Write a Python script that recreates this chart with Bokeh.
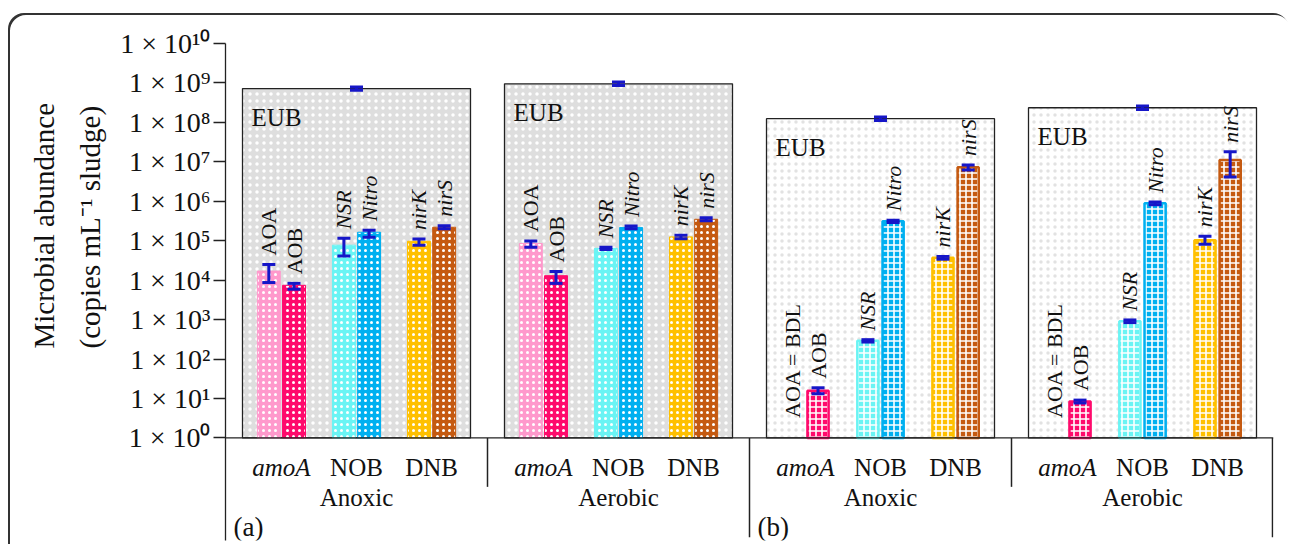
import math
from bokeh.plotting import figure
from bokeh.models import (ColumnDataSource, FactorRange, Range1d, FixedTicker,
                          CustomJSTickFormatter, Whisker, TeeHead, Span, Title)
from bokeh.core.properties import value
from bokeh.embed import file_html
from bokeh.resources import INLINE

# ---------------- data ----------------
panels = ["(a)", "(a)", "(b)", "(b)"]
conditions = ["Anoxic", "Aerobic", "Anoxic", "Aerobic"]
group_names = ["amoA", "NOB", "DNB"]
groups = ["amoA", "amoA", "NOB", "NOB", "DNB", "DNB"]
genes = ["AOA", "AOB", "NSR", "Nitro", "nirK", "nirS"]

# copies mL-1 sludge (None = below detection limit)
abund = [
    [1.7e4, 7.4e3, 7.7e4, 1.64e5, 9.7e4, 2.2e5],     # (a) Anoxic
    [8.5e4, 1.3e4, 6.4e4, 2.17e5, 1.25e5, 3.5e5],    # (a) Aerobic
    [None, 15.7, 2.9e2, 3.1e5, 3.7e4, 7.3e6],        # (b) Anoxic
    [None, 8.4, 9.1e2, 8.9e5, 1.03e5, 1.12e7],       # (b) Aerobic
]
abund_lo = [
    [8.7e3, 5.9e3, 4.1e4, 1.23e5, 7.7e4, 2.0e5],
    [6.8e4, 8.3e3, 6.0e4, 2.0e5, 1.12e5, 3.2e5],
    [None, 13.2, 2.7e2, 2.9e5, 3.4e4, 6.2e6],
    [None, 7.7, 8.4e2, 8.2e5, 8.1e4, 4.1e6],
]
abund_hi = [
    [2.5e4, 8.3e3, 1.15e5, 1.85e5, 1.1e5, 2.4e5],
    [9.8e4, 1.66e4, 6.8e4, 2.35e5, 1.38e5, 3.8e5],
    [None, 18.7, 3.1e2, 3.3e5, 4.0e4, 8.3e6],
    [None, 9.1, 9.8e2, 9.6e5, 1.3e5, 1.8e7],
]
eub = [7.2e8, 9.5e8, 1.24e8, 2.35e8]
eub_lo = [6.5e8, 8.6e8, 1.12e8, 2.12e8]
eub_hi = [7.9e8, 1.05e9, 1.37e8, 2.6e8]

tick_labels = ["1 × 10⁰", "1 × 10¹", "1 × 10²", "1 × 10³", "1 × 10⁴", "1 × 10⁵",
               "1 × 10⁶", "1 × 10⁷", "1 × 10⁸", "1 × 10⁹", "1 × 10¹⁰"]
y_label_lines = ["Microbial abundance", "(copies mL⁻¹ sludge)"]
eub_label = "EUB"
bdl_label = "AOA = BDL"

# ---------------- styles / layout ----------------
FONT = value("Liberation Serif")
gene_colors = ["#ff99cc", "#ff0a6c", "#6af4f4", "#00b0f0", "#ffc000", "#c55a11"]
italic_genes = {"NSR", "Nitro", "nirK", "nirS"}
ERR = "#1616c8"
SP, GP = 0.98, 2.44
group_span = 6 + 2 * SP
half_bound = group_span / 2 + GP / 2
box_w = 9.05

tops = [f"{pn} {c}" for pn, c in zip(panels, conditions)]
factors = [(t, g, s) for t in tops for g, s in zip(groups, genes)]

x_range = FactorRange(*factors, factor_padding=0.0, subgroup_padding=SP,
                      group_padding=GP, range_padding=GP / 2,
                      range_padding_units="absolute")
y_range = Range1d(10 ** -2.6, 1e10)

p = figure(width=1281, height=531, x_range=x_range, y_range=y_range,
           y_axis_type="log", x_axis_location=None, toolbar_location=None,
           output_backend="svg", min_border_left=217, min_border_right=16,
           min_border_top=30, min_border_bottom=4)
p.margin = (13, 0, 0, 8)
p.styles = {"box-shadow": "inset 2px 2px 0 0 #333",
            "border-top-left-radius": "16px", "border-top-right-radius": "16px"}
p.border_fill_color = None
p.background_fill_color = None
p.outline_line_color = None
p.xgrid.visible = False
p.ygrid.visible = False

# EUB boxes
for pi, (fill, hcol) in enumerate([("#dedede", "white"), ("white", "#e2e2e2")]):
    idx = [i for i in range(4) if panels[i] == ["(a)", "(b)"][pi]]
    src = ColumnDataSource(dict(x=[(tops[i], "NOB") for i in idx],
                                top=[eub[i] for i in idx]))
    p.vbar(x="x", top="top", bottom=1, width=box_w, source=src,
           fill_color=fill, line_color="#222222", line_width=1.3,
           hatch_pattern="dot", hatch_color=hcol, hatch_scale=7, hatch_weight=1)

# gene bars
for pn in ["(a)", "(b)"]:
    xs, ts, cs = [], [], []
    for i in range(4):
        if panels[i] != pn:
            continue
        for j in range(6):
            if abund[i][j] is None:
                continue
            xs.append((tops[i], groups[j], genes[j]))
            ts.append(abund[i][j])
            cs.append(gene_colors[j])
    src = ColumnDataSource(dict(x=xs, top=ts, color=cs))
    if pn == "(a)":
        p.vbar(x="x", top="top", bottom=1, width=0.91, source=src,
               fill_color="color", line_color="color", line_width=1,
               hatch_pattern="dot", hatch_color="white", hatch_scale=6,
               hatch_weight=1)
    else:
        p.vbar(x="x", top="top", bottom=1, width=0.84, source=src,
               fill_color="color", line_color="color", line_width=2.5,
               hatch_pattern="cross", hatch_color="white",
               hatch_scale=6, hatch_weight=1.6)

# baseline
p.add_layout(Span(location=1, dimension="width", line_color="#222222", line_width=1.3))

# error bars
ex, elo, ehi = [], [], []
for i in range(4):
    ex.append((tops[i], "NOB")); elo.append(eub_lo[i]); ehi.append(eub_hi[i])
    for j in range(6):
        if abund[i][j] is None:
            continue
        ex.append((tops[i], groups[j], genes[j]))
        elo.append(abund_lo[i][j]); ehi.append(abund_hi[i][j])
esrc = ColumnDataSource(dict(x=ex, lo=elo, hi=ehi))
p.add_layout(Whisker(base="x", lower="lo", upper="hi", source=esrc,
                     dimension="height", line_color=ERR, line_width=3,
                     level="annotation",
                     upper_head=TeeHead(size=13, line_color=ERR, line_width=3),
                     lower_head=TeeHead(size=13, line_color=ERR, line_width=3)))

# EUB labels
src = ColumnDataSource(dict(x=[[tops[i], "NOB", -box_w / 2 + 0.36] for i in range(4)],
                            y=eub, text=[eub_label] * 4))
p.text(x="x", y="y", text="text", source=src, text_font=FONT,
       text_font_size="25px", text_baseline="top", text_align="left",
       y_offset=15, text_color="#111111")

# gene labels above bars
gx, gy, gt, gs, goff = [], [], [], [], []
for i in range(4):
    for j in range(6):
        gx.append((tops[i], groups[j], genes[j]))
        if abund[i][j] is None:
            gy.append(1); gt.append(bdl_label); gs.append("normal"); goff.append(-20)
        else:
            gy.append(abund_hi[i][j]); gt.append(genes[j])
            gs.append("italic" if genes[j] in italic_genes else "normal")
            goff.append(-9)
src = ColumnDataSource(dict(x=gx, y=gy, text=gt, style=gs, off=goff))
p.text(x="x", y="y", text="text", source=src, angle=math.pi / 2,
       text_font=FONT, text_font_size="22px", text_font_style="style",
       text_align="left", text_baseline="middle", y_offset="off",
       text_color="#111111")

# category labels under the baseline
bx, bt, bs = [], [], []
for t in tops:
    for g in group_names:
        bx.append((t, g)); bt.append(g); bs.append("italic" if g == "amoA" else "normal")
src = ColumnDataSource(dict(x=bx, y=[10 ** -0.74] * len(bx), text=bt, style=bs))
p.text(x="x", y="y", text="text", source=src, text_font=FONT,
       text_font_size="25px", text_font_style="style", text_align="center",
       text_baseline="middle", text_color="#111111")

src = ColumnDataSource(dict(x=tops, y=[10 ** -1.5] * 4, text=conditions))
p.text(x="x", y="y", text="text", source=src, text_font=FONT,
       text_font_size="25px", text_align="center", text_baseline="middle",
       text_color="#111111")

src = ColumnDataSource(dict(x=[[tops[0], -half_bound], [tops[2], -half_bound]],
                            y=[10 ** -2.25] * 2, text=["(a)", "(b)"]))
p.text(x="x", y="y", text="text", source=src, text_font=FONT,
       text_font_size="27px", text_align="left", text_baseline="middle",
       x_offset=8, text_color="#111111")

# separators
sx = [[t, half_bound] for t in tops]
sx[-1] = [tops[-1], half_bound - 0.04]
sy1 = [10 ** -1.24, 10 ** -2.52, 10 ** -1.24, 10 ** -2.52]
src = ColumnDataSource(dict(x=sx, y0=[1] * 4, y1=sy1))
p.segment(x0="x", x1="x", y0="y0", y1="y1", source=src,
          line_color="#222222", line_width=1.5)

# y axis
ax = p.yaxis[0]
ax.ticker = FixedTicker(ticks=[10 ** k for k in range(11)], minor_ticks=[])
ax.formatter = CustomJSTickFormatter(args=dict(labels=tick_labels),
                                     code="return labels[Math.round(Math.log10(tick))]")
ax.major_label_text_font = "Liberation Serif"
ax.major_label_text_font_size = "28px"
ax.major_label_text_color = "#111111"
ax.major_label_standoff = 3
ax.major_tick_out = 12
ax.major_tick_in = 0
ax.minor_tick_out = 0
ax.minor_tick_in = 0
ax.axis_line_color = "#222222"
ax.axis_line_width = 1.3
ax.major_tick_line_color = "#222222"
ax.major_tick_line_width = 1.3

# y axis title (two lines), placed over the value range as in the original
for line, stand in zip(reversed(y_label_lines), [24, 0]):
    p.add_layout(Title(text=line, align="left", offset=192, standoff=stand,
                       text_font="Liberation Serif", text_font_size="29px",
                       text_font_style="normal", text_color="#111111"), "left")

open("out.html", "w").write(file_html(p, INLINE))
